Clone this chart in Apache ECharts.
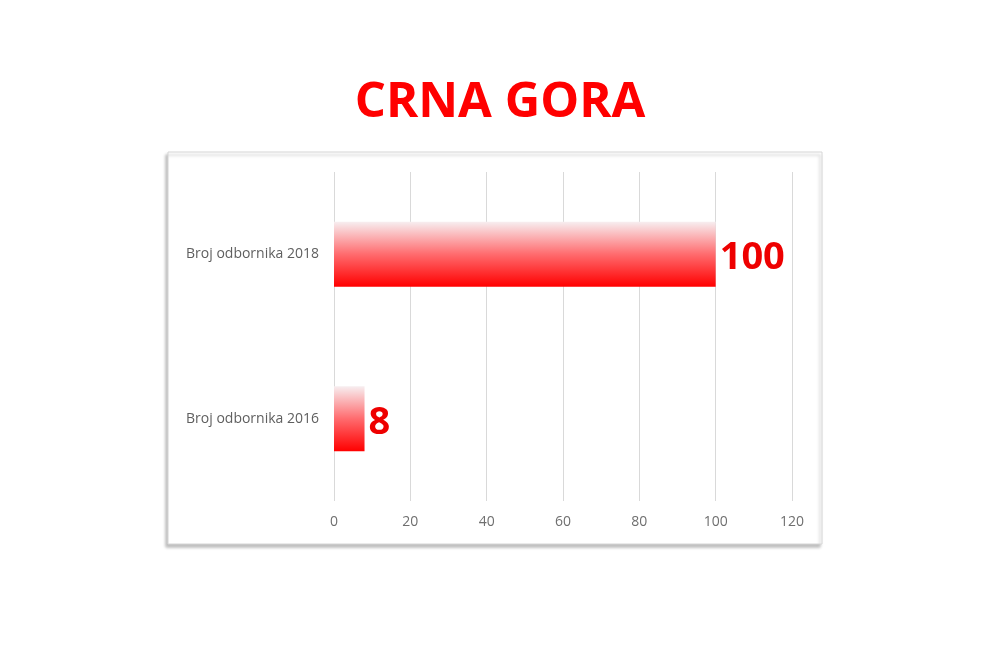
<!DOCTYPE html>
<html>
<head>
<meta charset="utf-8">
<script src="https://cdn.jsdelivr.net/npm/echarts@6/dist/echarts.min.js"></script>
<style>
html,body{margin:0;padding:0;background:#fff;}
#c{width:1000px;height:666px;}
</style>
</head>
<body>
<div id="c"></div>
<script>
const titleText = 'CRNA GORA';
const categories = ['Broj odbornika 2016', 'Broj odbornika 2018'];
const values = [8, 100];
const tickLabels = [0, 20, 40, 60, 80, 100, 120];

const chart = echarts.init(document.getElementById('c'));
chart.setOption({
  backgroundColor: '#fff',
  animation: false,
  title: {
    text: titleText,
    left: 'center',
    top: 74,
    textStyle: {color: '#ff0000', fontFamily: 'Open Sans', fontWeight: 'bold', fontSize: 49}
  },
  graphic: [
    {type: 'rect', shape: {x: 168, y: 152, width: 654, height: 392}, z: -10,
     style: {fill: '#fff', stroke: '#d6d6d6', lineWidth: 1, shadowBlur: 3, shadowOffsetX: -2, shadowOffsetY: 3, shadowColor: 'rgba(0,0,0,0.25)'}}
  ],
  grid: {left: 334, right: 208, top: 172, bottom: 165, containLabel: false},
  xAxis: {
    type: 'value', min: 0, max: 120, interval: 20,
    axisLine: {show: false}, axisTick: {show: false},
    splitLine: {lineStyle: {color: '#d9d9d9', width: 1}},
    axisLabel: {color: '#6f6f6f', fontFamily: 'Open Sans', fontSize: 14, margin: 14,
      formatter: v => tickLabels.includes(v) ? String(v) : ''}
  },
  yAxis: {
    type: 'category', data: categories,
    axisLine: {show: false}, axisTick: {show: false},
    axisLabel: {color: '#5f5f5f', fontFamily: 'Open Sans', fontSize: 14, margin: 15}
  },
  series: [{
    type: 'bar', data: values, barWidth: '39.5%',
    itemStyle: {color: new echarts.graphic.LinearGradient(0, 0, 0, 1, [
      {offset: 0, color: '#f7eef0'},
      {offset: 0.5, color: '#ff6b6e'},
      {offset: 1, color: '#ff0000'}
    ])},
    label: {show: true, position: 'right', distance: 4, color: '#ee0000',
      fontFamily: 'Open Sans', fontWeight: 'bold', fontSize: 38, offset: [0, 4]}
  }]
});
</script>
</body>
</html>
